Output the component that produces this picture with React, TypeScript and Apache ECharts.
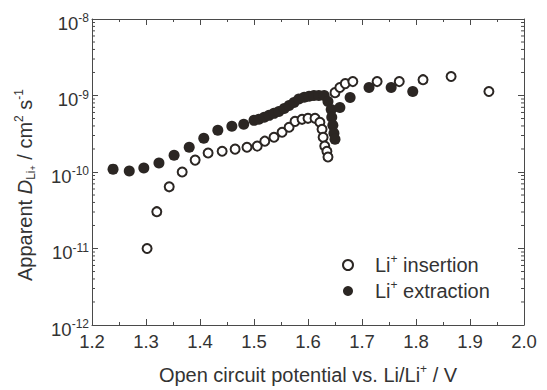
import React, { useEffect, useRef } from 'react';
import * as echarts from 'echarts';

// ---- data ----
const X_MIN = 1.2;
const X_MAX = 2.0;
const X_INTERVAL = 0.1;
const Y_MIN = 1e-12;
const Y_MAX = 1e-8;

// Li+ insertion (open circles): potential / V
const insertionV = [
  1.302, 1.320, 1.343, 1.367, 1.391, 1.415, 1.441, 1.465, 1.487, 1.506,
  1.520, 1.537, 1.552, 1.565, 1.576, 1.589, 1.600, 1.613, 1.622, 1.626,
  1.628, 1.631, 1.635, 1.637, 1.650, 1.659, 1.669, 1.683, 1.728, 1.769,
  1.813, 1.865, 1.935,
];
// apparent D / cm2 s-1
const insertionD = [
  1.0e-11, 3.03e-11, 6.4e-11, 1.0e-10, 1.43e-10, 1.77e-10, 1.87e-10, 1.99e-10, 2.11e-10, 2.18e-10,
  2.53e-10, 2.85e-10, 3.31e-10, 3.84e-10, 4.59e-10, 4.88e-10, 5.03e-10, 5.03e-10, 4.46e-10, 3.62e-10,
  2.85e-10, 2.18e-10, 1.87e-10, 1.57e-10, 1.09e-9, 1.27e-9, 1.43e-9, 1.52e-9, 1.52e-9, 1.52e-9,
  1.61e-9, 1.77e-9, 1.13e-9,
];

// Li+ extraction (filled circles)
const extractionV = [
  1.239, 1.269, 1.296, 1.324, 1.352, 1.380, 1.407, 1.433, 1.459, 1.481,
  1.500, 1.509, 1.519, 1.528, 1.537, 1.546, 1.556, 1.565, 1.574, 1.583,
  1.593, 1.602, 1.611, 1.620, 1.630, 1.637, 1.643, 1.644, 1.646, 1.648,
  1.650, 1.659, 1.678, 1.713, 1.754, 1.794,
];
const extractionD = [
  1.09e-10, 1.03e-10, 1.13e-10, 1.31e-10, 1.66e-10, 2.11e-10, 2.76e-10, 3.51e-10, 3.96e-10, 4.2e-10,
  4.73e-10, 4.88e-10, 5.18e-10, 5.5e-10, 5.84e-10, 6.19e-10, 6.78e-10, 7.42e-10, 8.11e-10, 9.0e-10,
  9.5e-10, 9.8e-10, 1.0e-9, 1.0e-9, 1.0e-9, 8.36e-10, 6.58e-10, 5.18e-10, 4.08e-10, 3.21e-10,
  2.68e-10, 6.98e-10, 9.42e-10, 1.27e-9, 1.27e-9, 1.13e-9,
];

// log-axis minor tick positions
const DECADES = [-12, -11, -10, -9];
const MINOR_MULTIPLIERS = [2, 3, 4, 5, 6, 7, 8, 9];

const SERIES_INSERTION = 'Li+ insertion';
const SERIES_EXTRACTION = 'Li+ extraction';

export default function App() {
  const ref = useRef<HTMLDivElement>(null);

  useEffect(() => {
    if (!ref.current) return;
    const chart = echarts.init(ref.current, null, { renderer: 'svg' });
    const font = 'Liberation Sans, Arial, Helvetica, sans-serif';
    const ink = '#2b2623';
    const axisColor = '#4a4a4a';
    const textColor = '#333';

    const minorTickData: number[][] = [];
    DECADES.forEach((d) =>
      MINOR_MULTIPLIERS.forEach((k) => minorTickData.push([X_MIN, k * Math.pow(10, d)]))
    );

    const axisLine = { show: true, onZero: false, lineStyle: { color: axisColor, width: 1 } };
    const tickStyle = { color: axisColor, width: 1 };

    const titleRich = {
      a: { fontSize: 20, fontFamily: font, color: textColor, lineHeight: 24 },
      i: { fontSize: 20, fontFamily: font, color: textColor, lineHeight: 24, fontStyle: 'italic' },
      sup: { fontSize: 12, fontFamily: font, color: textColor, lineHeight: 12, verticalAlign: 'top' },
      sub: { fontSize: 12, fontFamily: font, color: textColor, lineHeight: 14, verticalAlign: 'bottom' },
      subsup: { fontSize: 9, fontFamily: font, color: textColor, lineHeight: 20, verticalAlign: 'bottom' },
    };

    const yLabelRich = {
      b: { fontSize: 18.5, fontFamily: font, color: textColor, lineHeight: 22 },
      s: { fontSize: 12, fontFamily: font, color: textColor, lineHeight: 12, verticalAlign: 'top' },
    };

    const option: any = {
      animation: false,
      backgroundColor: '#ffffff',
      grid: { left: 92, right: 23, top: 19, bottom: 63, containLabel: false },
      legend: {
        orient: 'vertical',
        left: 337,
        top: 248,
        itemWidth: 10,
        itemHeight: 10,
        itemGap: 4,
        selectedMode: false,
        data: [SERIES_INSERTION, SERIES_EXTRACTION],
        formatter: (name: string) =>
          name === SERIES_INSERTION
            ? '{a|Li}{sup|+}{a| insertion}'
            : '{a|Li}{sup|+}{a| extraction}',
        textStyle: {
          padding: [0, 0, 0, 17],
          rich: titleRich,
        },
      },
      xAxis: [
        {
          type: 'value',
          position: 'bottom',
          min: X_MIN,
          max: X_MAX,
          interval: X_INTERVAL,
          axisLine,
          axisTick: { show: true, inside: true, length: 6, lineStyle: tickStyle },
          minorTick: { show: true, splitNumber: 2, length: 3, lineStyle: tickStyle },
          splitLine: { show: false },
          axisLabel: {
            formatter: (v: number) => v.toFixed(1),
            color: textColor,
            fontSize: 18.5,
            fontFamily: font,
            margin: 7,
          },
          name: '{a|Open circuit potential vs. Li/Li}{sup|+}{a| / V}',
          nameLocation: 'middle',
          nameGap: 38,
          nameTextStyle: { rich: titleRich },
        },
        {
          type: 'value',
          position: 'top',
          min: X_MIN,
          max: X_MAX,
          interval: X_INTERVAL,
          axisLine,
          axisTick: { show: true, inside: true, length: 6, lineStyle: tickStyle },
          minorTick: { show: true, splitNumber: 2, length: 3, lineStyle: tickStyle },
          splitLine: { show: false },
          axisLabel: { show: false },
        },
      ],
      yAxis: [
        {
          type: 'log',
          logBase: 10,
          position: 'left',
          min: Y_MIN,
          max: Y_MAX,
          axisLine,
          axisTick: { show: true, inside: true, length: 6, lineStyle: tickStyle },
          splitLine: { show: false },
          axisLabel: {
            formatter: (v: number) => `{b|10}{s|${Math.round(Math.log10(v))}}`,
            rich: yLabelRich,
            margin: 3,
            padding: [8, 0, 0, 0],
          },
          name: '{a|Apparent }{i|D}{sub|Li}{subsup|+}{a| / cm}{sup|2}{a| s}{sup|-1}',
          nameLocation: 'middle',
          nameGap: 55,
          nameRotate: 90,
          nameTextStyle: { rich: titleRich, padding: [0, 26, 0, 0] },
        },
        {
          type: 'log',
          logBase: 10,
          position: 'right',
          min: Y_MIN,
          max: Y_MAX,
          axisLine,
          axisTick: { show: true, inside: true, length: 6, lineStyle: tickStyle },
          splitLine: { show: false },
          axisLabel: { show: false },
        },
      ],
      series: [
        {
          type: 'custom',
          name: 'minorTicks',
          xAxisIndex: 0,
          yAxisIndex: 0,
          silent: true,
          z: 1,
          data: minorTickData,
          renderItem: (params: any, api: any) => {
            const v = api.value(1);
            const pL = api.coord([X_MIN, v]);
            const pR = api.coord([X_MAX, v]);
            return {
              type: 'group',
              children: [
                {
                  type: 'line',
                  shape: { x1: pL[0], y1: pL[1], x2: pL[0] + 3, y2: pL[1] },
                  style: { stroke: axisColor, lineWidth: 1 },
                },
                {
                  type: 'line',
                  shape: { x1: pR[0] - 3, y1: pR[1], x2: pR[0], y2: pR[1] },
                  style: { stroke: axisColor, lineWidth: 1 },
                },
              ],
            };
          },
        },
        {
          type: 'scatter',
          name: SERIES_INSERTION,
          xAxisIndex: 0,
          yAxisIndex: 0,
          symbol: 'circle',
          symbolSize: 9,
          z: 2,
          itemStyle: { color: '#ffffff', borderColor: ink, borderWidth: 2, opacity: 1 },
          data: insertionV.map((v, i) => [v, insertionD[i]]),
        },
        {
          type: 'scatter',
          name: SERIES_EXTRACTION,
          xAxisIndex: 0,
          yAxisIndex: 0,
          symbol: 'circle',
          symbolSize: 11,
          z: 3,
          itemStyle: { color: ink, opacity: 1 },
          data: extractionV.map((v, i) => [v, extractionD[i]]),
        },
      ],
    };

    chart.setOption(option);
    return () => chart.dispose();
  }, []);

  return (
    <div
      ref={ref}
      style={{ position: 'fixed', left: 0, top: 0, width: 547, height: 390, background: '#fff' }}
    />
  );
}
